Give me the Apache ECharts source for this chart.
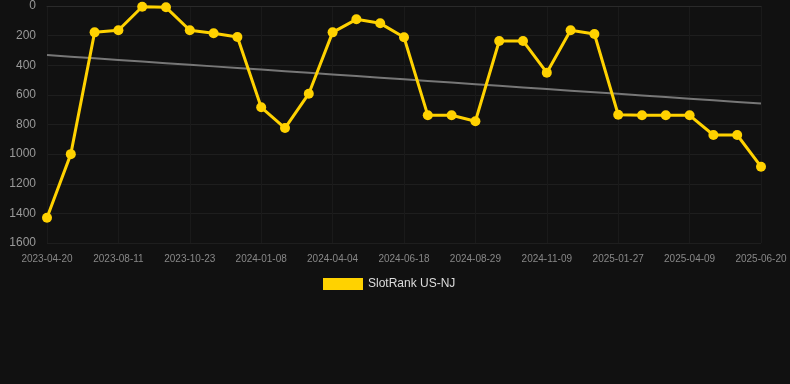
<!DOCTYPE html>
<html><head><meta charset="utf-8">
<script src="https://cdn.jsdelivr.net/npm/echarts@6/dist/echarts.min.js"></script>
<style>html,body{margin:0;padding:0;background:#111111;}#c{width:790px;height:384px;}</style>
</head><body><div id="c"></div>
<script>
var categories = ["2023-04-20","2023-05-28","2023-07-05","2023-08-11","2023-08-30","2023-09-25","2023-10-23","2023-11-15","2023-12-12","2024-01-08","2024-02-05","2024-03-08","2024-04-04","2024-04-30","2024-05-24","2024-06-18","2024-07-12","2024-08-05","2024-08-29","2024-09-21","2024-10-15","2024-11-09","2024-12-08","2025-01-02","2025-01-27","2025-02-20","2025-03-15","2025-04-09","2025-05-03","2025-05-27","2025-06-20"];
var ranks = [1430,1000,178,164,5,9,164,184,209,684,824,592,178,90,117,211,738,738,778,236,236,450,164,189,734,738,738,738,871,871,1085];
var seriesName = "SlotRank US-NJ";

// linear trend (least squares) from the data
var n = ranks.length, sx=0, sy=0, sxy=0, sxx=0;
for (var i=0;i<n;i++){sx+=i;sy+=ranks[i];sxy+=i*ranks[i];sxx+=i*i;}
var slope=(n*sxy-sx*sy)/(n*sxx-sx*sx), icpt=(sy-slope*sx)/n;
var trend = ranks.map(function(_,i){return icpt+slope*i;});

var chart = echarts.init(document.getElementById('c'));
chart.setOption({
  backgroundColor:'#111111',
  animation:false,
  grid:{left:47,right:29,top:6,bottom:141},
  legend:{top:278,left:323,data:[seriesName],itemWidth:40,itemHeight:12,icon:'rect',padding:0,
    textStyle:{color:'#dddddd',fontSize:12,fontFamily:'Arial, Liberation Sans, sans-serif'}},
  xAxis:{type:'category',data:categories,boundaryGap:false,
    axisLine:{lineStyle:{color:'#2a2a2a'}},axisTick:{show:false},
    axisLabel:{interval:2,color:'#888888',fontSize:10,margin:11,fontFamily:'Arial, Liberation Sans, sans-serif'},
    splitLine:{show:true,interval:2,lineStyle:{color:'#1a1a1a'}}},
  yAxis:{type:'value',inverse:true,min:0,max:1600,interval:200,
    axisLine:{show:false},axisTick:{show:false},
    axisLabel:{color:'#999999',fontSize:12,margin:11,formatter:function(v){return String(v);},fontFamily:'Arial, Liberation Sans, sans-serif'},
    splitLine:{lineStyle:{color:'#1e1e1e'}}},
  series:[
    {name:seriesName,type:'line',data:ranks,symbol:'circle',symbolSize:10,
      lineStyle:{color:'#ffd200',width:3},itemStyle:{color:'#ffd200'},z:3},
    {name:'trend',type:'line',data:trend,symbol:'none',
      lineStyle:{color:'#777777',width:2},z:2}
  ]
});
</script></body></html>
